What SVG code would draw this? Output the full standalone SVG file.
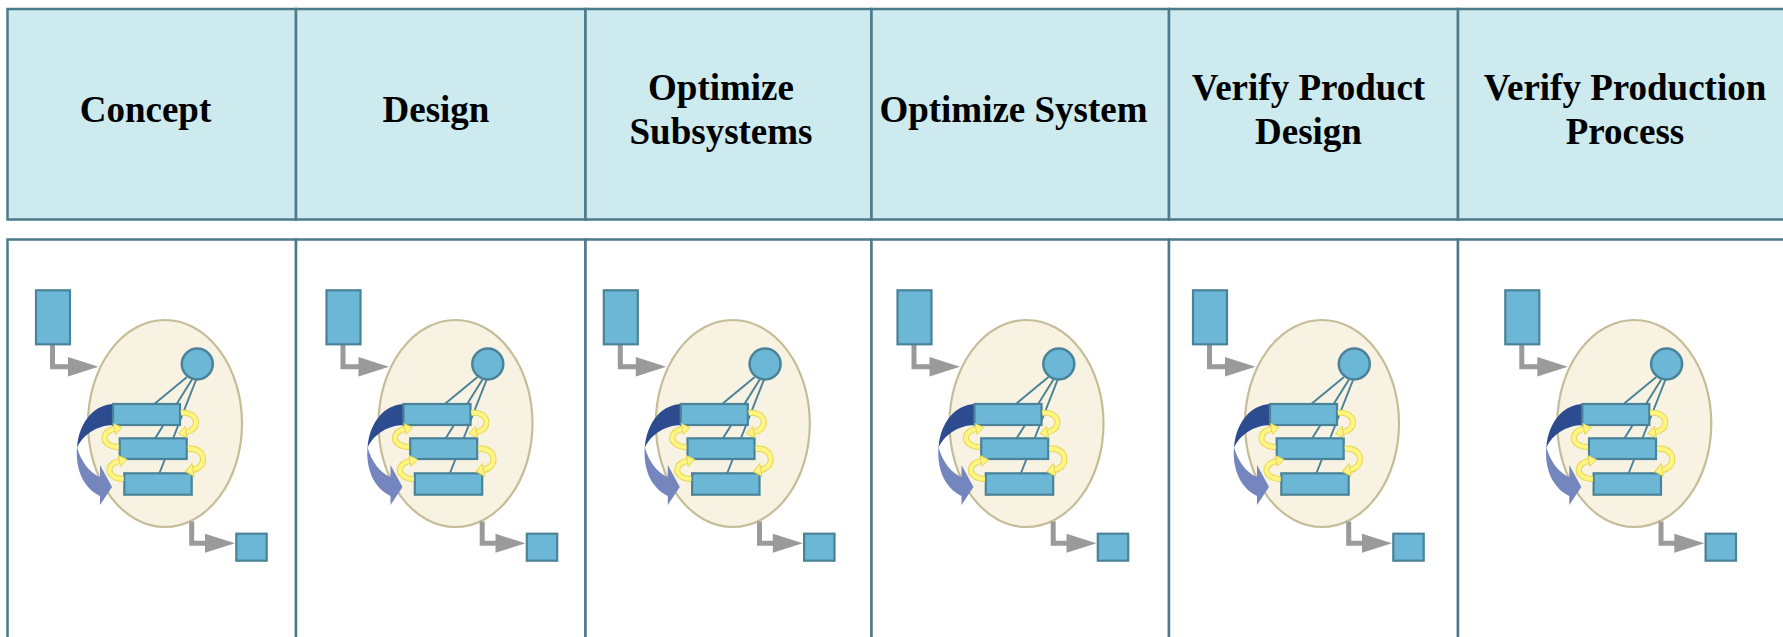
<svg xmlns="http://www.w3.org/2000/svg" xmlns:xlink="http://www.w3.org/1999/xlink" width="1783" height="637" viewBox="0 0 1783 637">
  <style>
    .hdr { fill: #cdeaee; stroke: #4b7a8a; stroke-width: 2.5; }
    .cell { fill: #ffffff; stroke: #4b7a8a; stroke-width: 2.5; }
    .lbl { font-family: "Liberation Serif", "Times New Roman", serif; font-weight: bold; font-size: 37px; fill: #000000; text-anchor: middle; }
    .env { fill: #f8f2e3; stroke: #c6bd98; stroke-width: 2.2; }
    .box { fill: #6cb6d6; stroke: #4a8398; stroke-width: 2.2; }
    .hub { fill: #6cb6d6; stroke: #4a8398; stroke-width: 2.5; }
    .link { stroke: #4a8398; stroke-width: 2; fill: none; }
    .flow { stroke: #9a9a9a; stroke-width: 5; fill: none; }
    .flow-head { fill: #9a9a9a; }
    .curl-edge { fill: none; stroke: #e6d650; stroke-width: 6; stroke-linecap: butt; }
    .curl-core { fill: none; stroke: #fff585; stroke-width: 4; stroke-linecap: butt; }
    .curl-head { fill: #fff585; stroke: #e6d650; stroke-width: 1; }
    .loop-back { fill: #2c4c8f; }
    .loop-front { fill: #7586bf; }
  </style>
  <defs>
    <!-- small iteration arrow, right-hand side, start at origin -->
    <g id="curl-r">
      <path class="curl-edge" d="M0,0 C9,-1.5 15.5,4 15,10 C14.5,15 10,18 5,19"/>
      <path class="curl-core" d="M0,0 C9,-1.5 15.5,4 15,10 C14.5,15 10,18 5,19"/>
      <polygon class="curl-head" points="-2.5,20.5 4,13.3 6,24.5"/>
    </g>
    <!-- small iteration arrow, left-hand side, start at origin -->
    <g id="curl-l">
      <path class="curl-edge" d="M0,0 C-9,0 -15,-5 -14,-10 C-13,-15 -9,-17 -4,-18"/>
      <path class="curl-core" d="M0,0 C-9,0 -15,-5 -14,-10 C-13,-15 -9,-17 -4,-18"/>
      <polygon class="curl-head" points="3.5,-19.5 -3,-12.6 -5,-23.4"/>
    </g>
    <!-- one stage: input, process envelope with subsystem stack, output -->
    <g id="stage-icon">
      <ellipse class="env" cx="165" cy="423.5" rx="77" ry="103.5"/>
      <g class="connectors">
        <path class="flow" d="M52.5,344.5 V366.7 H70"/>
        <polygon class="flow-head" points="68,357 98.5,366.7 68,376.5"/>
        <path class="flow" d="M191.7,521.5 V543.3 H207"/>
        <polygon class="flow-head" points="205,533.8 235,543.3 205,552.8"/>
        <line class="link" x1="187" y1="377" x2="154.3" y2="404"/>
        <line class="link" x1="192" y1="379.5" x2="155" y2="438.5"/>
        <line class="link" x1="196" y1="380" x2="159.3" y2="473.5"/>
        <path class="loop-back" d="M114,404 C96,404 79,420 77,448 C82,436 96,425 114,425 Z"/>
        <path class="loop-front" d="M77,447 C75,471 85,489 100,496 L100,505 L112,487 L100,465 L100,477 C90,473 81,462 77,447 Z"/>
      </g>
      <rect class="box" x="36" y="290.3" width="34" height="54"/>
      <circle class="hub" cx="197.3" cy="364" r="15.5"/>
      <rect class="box" x="113" y="404" width="67" height="21"/>
      <rect class="box" x="119.7" y="438.3" width="67" height="20.7"/>
      <rect class="box" x="124.3" y="473.3" width="67.4" height="21.4"/>
      <rect class="box" x="236.3" y="533.7" width="30.4" height="27"/>
      <use xlink:href="#curl-r" href="#curl-r" transform="translate(181,413)"/>
      <use xlink:href="#curl-r" href="#curl-r" transform="translate(188,449) scale(1,1.1)"/>
      <use xlink:href="#curl-l" href="#curl-l" transform="translate(118.5,447)"/>
      <use xlink:href="#curl-l" href="#curl-l" transform="translate(123.5,479)"/>
    </g>
  </defs>

  <!-- header row -->
  <g id="hdr-concept">
    <rect class="hdr" x="7.5" y="9" width="288.5" height="210.5"/>
    <text class="lbl" x="145.5" y="122">Concept</text>
  </g>
  <g id="hdr-design">
    <rect class="hdr" x="296" y="9" width="289.5" height="210.5"/>
    <text class="lbl" x="436" y="122">Design</text>
  </g>
  <g id="hdr-optimize-subsystems">
    <rect class="hdr" x="585.5" y="9" width="286" height="210.5"/>
    <text class="lbl" x="721" y="100">Optimize</text>
    <text class="lbl" x="721" y="144">Subsystems</text>
  </g>
  <g id="hdr-optimize-system">
    <rect class="hdr" x="871.5" y="9" width="297.5" height="210.5"/>
    <text class="lbl" x="1013.5" y="122">Optimize System</text>
  </g>
  <g id="hdr-verify-product">
    <rect class="hdr" x="1169" y="9" width="289" height="210.5"/>
    <text class="lbl" x="1308.5" y="100">Verify Product</text>
    <text class="lbl" x="1308.5" y="144">Design</text>
  </g>
  <g id="hdr-verify-production">
    <rect class="hdr" x="1458" y="9" width="345" height="210.5"/>
    <text class="lbl" x="1625" y="100">Verify Production</text>
    <text class="lbl" x="1625" y="144">Process</text>
  </g>

  <!-- stage row -->
  <g id="stage-concept">
    <rect class="cell" x="7.5" y="239.5" width="288.5" height="420"/>
    <use xlink:href="#stage-icon" href="#stage-icon"/>
  </g>
  <g id="stage-design">
    <rect class="cell" x="296" y="239.5" width="289.5" height="420"/>
    <use xlink:href="#stage-icon" href="#stage-icon" transform="translate(290.5,0)"/>
  </g>
  <g id="stage-optimize-subsystems">
    <rect class="cell" x="585.5" y="239.5" width="286" height="420"/>
    <use xlink:href="#stage-icon" href="#stage-icon" transform="translate(567.8,0)"/>
  </g>
  <g id="stage-optimize-system">
    <rect class="cell" x="871.5" y="239.5" width="297.5" height="420"/>
    <use xlink:href="#stage-icon" href="#stage-icon" transform="translate(861.5,0)"/>
  </g>
  <g id="stage-verify-product">
    <rect class="cell" x="1169" y="239.5" width="289" height="420"/>
    <use xlink:href="#stage-icon" href="#stage-icon" transform="translate(1157,0)"/>
  </g>
  <g id="stage-verify-production">
    <rect class="cell" x="1458" y="239.5" width="345" height="420"/>
    <use xlink:href="#stage-icon" href="#stage-icon" transform="translate(1469.3,0)"/>
  </g>
</svg>
